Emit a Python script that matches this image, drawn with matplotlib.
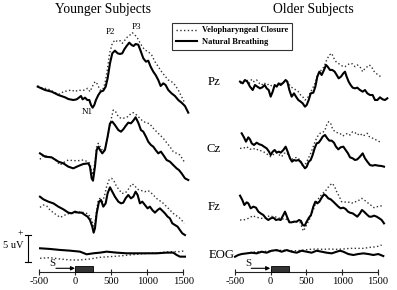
import numpy as np
import matplotlib
matplotlib.use("Agg")
import matplotlib.pyplot as plt
from matplotlib.patches import Rectangle

plt.rcParams['axes.unicode_minus'] = False
SERIF = ['Liberation Serif', 'DejaVu Serif']

# ---------------- data (time in ms, amplitude in uV, positive up) ----------------
TICKS = [-500, 0, 500, 1000, 1500]
STIM_END = 250  # ms, duration of the stimulus bar

# Younger subjects
Y_PZ_NAT_T = [-524,-422,-330,-237,-144,-98,-29,18,55,78,101,134,166,194,217,240,263,286,319,351,388,421,448,481,513,550,587,620,652,680,712,749,782,809,837,874,911,944,981,1013,1046,1083,1115,1152,1185,1222,1254,1291,1337,1384,1430,1476,1523,1569]
Y_PZ_NAT   = [0.61,0,-0.30,-0.91,-1.33,-1.64,-1.82,-1.70,-1.33,-1.09,-1.70,-1.39,-1.82,-1.82,-2.73,-3.21,-2.73,-1.82,-0.91,-0.30,-0.12,0.61,2.12,4.85,6.67,7.15,6.67,6.55,6.67,7.39,8.0,8.61,8.18,8.0,8.36,8.24,6.97,5.76,5.15,5.33,4.24,3.33,2.73,1.82,0.73,1.21,0.91,0,-0.61,-1.09,-1.82,-2.30,-2.91,-4.12]
Y_PZ_VEL_T = [-524,-468,-376,-283,-214,-167,-121,-52,-5,41,87,134,170,203,235,272,305,342,379,411,444,476,513,550,587,620,652,689,726,759,791,828,865,897,930,967,1013,1060,1106,1152,1198,1245,1291,1337,1384,1430,1476,1523]
Y_PZ_VEL   = [0.73,0.42,0.18,-0.48,-0.73,-0.30,-0.18,0,-0.30,0,-0.12,0,0.30,-0.30,0.61,1.52,1.09,0,0,1.21,3.64,6.67,8.48,9.09,8.79,8.97,8.48,9.09,9.70,10.0,10.42,10.0,9.39,8.61,7.88,7.27,6.97,6.36,5.15,4.24,3.33,2.55,1.82,1.52,0.91,0,-1.21,-2.42]

Y_CZ_NAT_T = [-492,-422,-330,-237,-167,-98,-29,41,110,180,203,226,245,272,296,319,342,374,411,448,481,513,550,597,634,666,698,735,772,805,837,874,911,944,981,1013,1050,1083,1115,1152,1189,1222,1268,1314,1360,1407,1439,1476,1523,1569]
Y_CZ_NAT   = [1.21,0.61,0.48,-0.30,-0.61,-1.21,-1.52,-1.09,-0.73,-0.61,-1.21,-3.33,-3.76,-1.21,1.82,2.42,1.82,1.21,1.82,4.24,6.67,6.97,6.36,5.45,5.15,5.58,6.18,6.79,6.67,7.15,7.76,6.79,5.45,5.15,4.24,3.33,2.73,2.42,1.82,1.21,1.52,0.91,0,-0.30,-0.91,-1.52,-1.82,-2.42,-3.33,-3.64]
Y_CZ_VEL_T = [-492,-445,-376,-283,-214,-144,-98,-29,41,110,170,203,235,272,296,319,356,388,421,458,495,527,559,597,634,666,698,735,772,805,851,897,944,990,1036,1083,1129,1175,1222,1268,1314,1360,1407,1453,1499,1523]
Y_CZ_VEL   = [0.12,0.91,0.61,0.12,-0.91,-0.30,0,-0.12,-0.12,0,-0.30,-0.61,-2.73,-0.61,2.42,3.03,2.12,1.52,2.42,4.85,7.27,9.09,8.79,7.88,7.58,7.58,7.76,7.88,8.48,8.61,8.18,7.58,6.97,6.79,6.55,5.76,5.15,4.55,3.94,3.15,2.42,1.52,1.21,0.91,0,-0.61]

Y_FZ_NAT_T = [-492,-445,-376,-306,-237,-167,-98,-52,-5,41,87,134,170,203,235,254,272,296,328,356,388,421,448,481,513,550,597,634,666,698,735,772,805,837,865,897,930,967,1004,1036,1069,1106,1143,1175,1208,1245,1282,1314,1347,1384,1421,1453,1486,1523]
Y_FZ_NAT   = [2.42,1.94,1.52,1.21,0.61,0.12,-0.48,-0.61,-0.30,-0.48,-0.48,-0.91,-1.21,-1.82,-3.03,-4.12,-3.33,-0.61,1.52,1.82,0.61,1.21,3.03,4.12,3.33,2.42,1.52,1.21,1.33,2.12,2.73,2.12,2.42,3.33,2.73,1.21,1.52,0.91,0.30,0.61,0,-0.48,0,0.30,-0.12,-0.61,-1.21,-1.52,-2.42,-2.73,-3.03,-3.64,-4.24,-4.55]
Y_FZ_VEL_T = [-492,-445,-399,-353,-306,-260,-214,-167,-121,-52,18,87,134,170,203,235,254,272,296,319,342,365,402,434,467,504,541,573,606,643,680,712,745,782,819,851,884,921,967,1013,1060,1106,1152,1198,1245,1291,1337,1384,1430,1476,1513]
Y_FZ_VEL   = [0.48,0.91,0.73,0,-0.48,-0.91,-1.33,-1.09,-0.73,-0.61,-0.48,-0.30,-0.61,-0.61,-1.21,-2.12,-3.03,-2.42,0,1.82,2.12,1.21,2.42,4.24,5.45,5.76,5.15,4.24,3.76,3.03,3.03,3.33,3.94,4.73,4.55,3.94,3.64,3.52,3.33,3.52,3.03,2.42,1.82,1.52,0.91,0.30,-0.30,-0.91,-1.21,-1.82,-2.42]

Y_EOG_NAT_T = [-491,-353,-214,-75,64,157,249,342,435,574,712,851,990,1129,1268,1361,1407,1453,1523]
Y_EOG_NAT   = [0.91,0.79,0.61,0.48,0.30,-0.18,0,0.12,0.30,0.12,0,0,0,0,0.12,0.12,-0.30,-0.61,-0.61]
Y_EOG_VEL_T = [-491,-353,-214,-75,64,203,342,481,620,759,898,1037,1175,1314,1453,1523]
Y_EOG_VEL   = [-0.91,-0.79,-1.03,-1.21,-1.21,-1.03,-0.73,-0.61,-0.48,-0.30,-0.12,0,0.12,0.30,0.30,0.48]

# Older subjects
O_PZ_NAT_T = [-427,-390,-358,-325,-288,-250,-218,-185,-148,-115,-83,-55,-27,1,29,57,85,113,141,178,210,234,262,294,327,355,387,420,448,480,504,532,560,597,625,653,681,713,746,774,797,830,862,895,923,951,983,1016,1039,1062,1090,1118,1146,1179,1211,1248,1286,1318,1351,1388,1425,1458,1491,1528,1565,1598,1630]
O_PZ_NAT   = [0.61,0.30,0.91,0.61,-0.30,-0.91,0,-0.30,-0.61,-0.42,0,-0.61,-0.91,-2.12,-1.21,0,-0.30,0.30,0,0.42,0.91,0.61,-0.91,-2.12,-1.52,-2.12,-2.73,-3.03,-3.33,-3.94,-3.64,-2.73,-1.52,-1.39,-0.30,1.52,2.42,1.82,2.73,3.64,3.33,2.73,2.73,2.42,1.82,1.21,1.52,2.12,2.42,1.52,0.61,0,-0.48,-0.61,-0.48,-0.91,-1.21,-0.91,-1.52,-1.82,-1.82,-2.73,-2.73,-2.24,-2.61,-2.73,-2.42]
O_PZ_VEL_T = [-427,-381,-334,-297,-264,-232,-195,-157,-125,-92,-55,-18,15,47,85,122,155,187,215,248,280,317,355,387,420,448,480,513,550,587,620,653,681,713,746,783,820,853,885,913,946,978,1016,1039,1072,1109,1146,1179,1211,1248,1286,1318,1351,1379,1411,1435,1472,1505,1537]
O_PZ_VEL   = [0.30,0.61,0.91,0.30,1.03,0.61,0.91,0.30,0,0.42,0,0.18,-0.18,-0.30,0,0,0.42,0.61,0.79,0.30,-0.30,-0.61,-0.91,-1.21,-1.82,-2.12,-2.73,-2.42,-1.52,-0.61,0.30,1.82,2.42,2.73,3.33,4.55,5.45,5.76,4.85,4.24,3.94,3.64,3.33,3.33,3.64,3.94,3.82,3.33,3.64,3.33,2.42,3.03,3.33,3.64,3.33,2.61,2.12,1.82,1.52]

O_CZ_NAT_T = [-404,-372,-344,-311,-288,-264,-232,-195,-157,-125,-92,-55,-22,1,29,57,85,113,141,178,210,238,271,299,327,355,387,420,448,480,504,532,560,587,615,643,671,699,727,760,792,820,853,885,913,946,978,1016,1048,1081,1109,1146,1179,1211,1248,1286,1318,1351,1388,1425,1458,1505,1551,1584]
O_CZ_NAT   = [2.12,1.39,0.61,1.39,1.03,0.30,0,0.42,0.12,0,-0.30,-0.61,-1.21,-1.82,-1.21,-0.91,-1.39,-1.21,-1.39,-0.91,-0.30,-1.21,-2.42,-3.03,-2.73,-2.85,-2.73,-3.03,-3.64,-4.24,-3.94,-3.03,-2.73,-1.82,-0.61,0.30,0.42,0.91,1.52,1.82,1.21,0.79,0.79,0.42,-0.30,-0.79,-0.42,-0.30,-0.91,-1.52,-2.24,-2.42,-2.73,-2.61,-2.12,-1.52,-2.42,-3.03,-3.64,-3.76,-3.64,-3.76,-3.82,-3.94]
O_CZ_VEL_T = [-427,-381,-334,-288,-241,-204,-171,-139,-102,-64,-32,1,29,61,85,122,155,187,224,262,294,327,364,401,429,457,494,527,560,587,620,653,690,727,760,783,811,839,867,899,932,969,1006,1039,1072,1109,1146,1179,1211,1248,1286,1318,1351,1379,1411,1444,1481,1519,1551]
O_CZ_VEL   = [-0.61,-0.61,-0.30,-0.79,-0.61,-0.91,-0.79,-1.03,-1.21,-1.52,-1.82,-2.12,-1.82,-1.52,-1.39,-1.82,-2.12,-1.52,-1.39,-2.12,-2.61,-2.42,-2.24,-2.61,-3.64,-3.64,-3.33,-2.42,-1.52,-0.61,0.61,1.52,2.12,2.24,2.73,3.64,4.24,3.94,2.85,2.42,2.24,2.12,1.64,1.82,2.12,1.82,2.42,2.24,1.82,2.12,1.64,1.82,2.12,1.52,1.39,1.03,0.91,0.61,0.42]

O_FZ_NAT_T = [-427,-395,-367,-334,-311,-278,-241,-204,-171,-139,-102,-64,-32,1,38,75,108,141,178,201,234,262,294,327,364,397,425,448,476,504,536,564,597,625,653,681,713,746,774,806,839,876,913,946,978,1016,1048,1081,1109,1146,1179,1211,1248,1276,1304,1342,1379,1411,1444,1481,1519,1551,1584]
O_FZ_NAT   = [3.52,2.73,1.82,2.30,2.12,1.21,1.52,1.33,0.61,0.30,0,-0.61,-0.91,-0.61,-0.48,-0.91,-0.79,-0.91,0,0.61,-0.48,-1.33,-1.33,-1.21,-1.21,-0.91,-1.09,-1.82,-1.94,-1.21,-0.48,0,1.52,2.42,2.12,2.42,3.15,3.76,3.52,3.03,2.85,2.42,1.94,1.52,1.21,1.33,1.09,0.61,0.42,0.30,0,-0.30,0.30,0.91,0.61,0.12,-0.30,-0.30,-0.12,-0.30,-0.61,-0.91,-1.52]
O_FZ_VEL_T = [-427,-381,-334,-288,-250,-218,-171,-125,-78,-46,-8,29,61,94,131,168,201,234,271,308,341,373,411,434,457,480,513,550,587,620,653,690,727,760,792,830,862,895,923,960,992,1025,1062,1100,1132,1165,1202,1239,1272,1304,1342,1379,1411,1444,1481,1519,1551]
O_FZ_VEL   = [-0.91,-0.91,-0.73,-0.48,-0.12,-0.30,-0.48,-0.61,-0.61,-0.30,-0.12,-0.30,-0.30,-0.48,-0.61,-0.73,-0.61,-0.91,-1.21,-1.33,-1.33,-1.21,-1.33,-2.12,-2.91,-2.42,-1.52,-0.61,0.61,1.82,2.73,3.33,3.94,4.24,4.85,5.45,5.76,5.15,4.24,3.33,2.42,2.30,2.42,2.30,2.12,2.42,2.42,2.73,3.03,2.73,2.42,1.94,1.70,1.33,1.52,1.52,1.70]

O_EOG_NAT_T = [-497,-451,-404,-334,-264,-195,-125,-55,15,85,154,224,294,364,434,504,573,643,713,783,853,923,969,1016,1085,1155,1225,1295,1365,1435,1504,1574]
O_EOG_NAT   = [-0.73,-0.42,-0.24,-0.12,0,-0.12,0.18,0,0.36,0.48,0.18,0.48,0.18,0,0.36,0.18,0,0.36,0.18,0,-0.12,0.18,0.36,0.18,-0.24,-0.42,-0.24,-0.12,-0.24,-0.42,-0.24,-0.61]
O_EOG_VEL_T = [-288,-195,-102,-8,85,178,271,364,457,550,643,736,829,923,1016,1109,1202,1295,1388,1481,1551]
O_EOG_VEL   = [0,0.18,0.18,0.36,0.36,0.48,0.36,0.36,0.48,0.61,0.67,0.61,0.67,0.61,0.67,0.79,0.79,0.79,0.97,1.09,1.39]

CHANNELS = ['Pz', 'Cz', 'Fz', 'EOG']
LEGEND_LABELS = ['Velopharyngeal Closure', 'Natural Breathing']
TITLES = ['Younger Subjects', 'Older Subjects']
SCALE_UV = 5

# ---------------- layout ----------------
W, H = 397, 290
PX_PER_UV = 5.5
YTOP = H / PX_PER_UV                     # figure height in uV units
def ypx(p):                              # pixel row -> vertical data coordinate
    return (H - p) / PX_PER_UV

LEFT_OFF = {'Pz': ypx(90), 'Cz': ypx(160), 'Fz': ypx(210), 'EOG': ypx(253.3)}
RIGHT_OFF = {'Pz': ypx(85), 'Cz': ypx(145), 'Fz': ypx(215), 'EOG': ypx(252.7)}
AXIS_Y = ypx(272.3)

fig = plt.figure(figsize=(W / 100, H / 100), dpi=100)
fig.patch.set_facecolor('white')

def make_ax(x0, x1):
    ax = fig.add_axes([x0 / W, 0, (x1 - x0) / W, 1])
    ax.set_xlim(-500, 1500)
    ax.set_ylim(0, YTOP)
    ax.patch.set_visible(False)
    for s in ['left', 'right', 'top']:
        ax.spines[s].set_visible(False)
    ax.spines['bottom'].set_position(('data', AXIS_Y))
    ax.spines['bottom'].set_linewidth(0.8)
    ax.spines['bottom'].set_color('#222222')
    ax.yaxis.set_visible(False)
    ax.set_xticks(TICKS)
    ax.set_xticklabels([str(t) for t in TICKS])
    ax.tick_params(axis='x', direction='inout', length=4.8, width=0.8,
                   color='#222222', labelsize=7.6, pad=1.0)
    for lab in ax.get_xticklabels():
        lab.set_family(SERIF)
    return ax

axL = make_ax(39.4, 183.3)
axR = make_ax(234.8, 378.0)

SOLID = dict(color='black', lw=1.5, solid_joinstyle='round', clip_on=False)
DOTTED = dict(color='#333333', lw=1.0, ls=(0, (1, 1.7)), clip_on=False)

def draw(ax, off, nat_t, nat, vel_t, vel):
    lv, = ax.plot(vel_t, np.array(vel) + off, **DOTTED)
    ln, = ax.plot(nat_t, np.array(nat) + off, **SOLID)
    return lv, ln

draw(axL, LEFT_OFF['Pz'], Y_PZ_NAT_T, Y_PZ_NAT, Y_PZ_VEL_T, Y_PZ_VEL)
draw(axL, LEFT_OFF['Cz'], Y_CZ_NAT_T, Y_CZ_NAT, Y_CZ_VEL_T, Y_CZ_VEL)
draw(axL, LEFT_OFF['Fz'], Y_FZ_NAT_T, Y_FZ_NAT, Y_FZ_VEL_T, Y_FZ_VEL)
draw(axL, LEFT_OFF['EOG'], Y_EOG_NAT_T, Y_EOG_NAT, Y_EOG_VEL_T, Y_EOG_VEL)
draw(axR, RIGHT_OFF['Pz'], O_PZ_NAT_T, O_PZ_NAT, O_PZ_VEL_T, O_PZ_VEL)
draw(axR, RIGHT_OFF['Cz'], O_CZ_NAT_T, O_CZ_NAT, O_CZ_VEL_T, O_CZ_VEL)
draw(axR, RIGHT_OFF['Fz'], O_FZ_NAT_T, O_FZ_NAT, O_FZ_VEL_T, O_FZ_VEL)
lv, ln = draw(axR, RIGHT_OFF['EOG'], O_EOG_NAT_T, O_EOG_NAT, O_EOG_VEL_T, O_EOG_VEL)

# stimulus bar + "S" arrow
for ax in (axL, axR):
    ax.add_patch(Rectangle((0, AXIS_Y), STIM_END, 6.3 / PX_PER_UV,
                           facecolor='#333333', edgecolor='black', lw=0.6,
                           clip_on=False, zorder=3))
    ax.annotate('', xy=(-5, ypx(268.3)), xytext=(-270, ypx(268.3)),
                arrowprops=dict(arrowstyle='-|>', lw=0.8, color='black',
                                mutation_scale=6, shrinkA=0, shrinkB=0),
                annotation_clip=False)
    ax.text(-318, ypx(263.3), 'S', ha='center', va='center', fontsize=7.8,
            family=SERIF, color='#111111')

# 5 uV scale bar (left panel)
sx = -500 - (39.4 - 27.7) / 0.072
axL.plot([sx, sx], [ypx(262.3), ypx(262.3) + SCALE_UV], color='black', lw=0.8, clip_on=False)
for yy in (ypx(262.3), ypx(262.3) + SCALE_UV):
    axL.plot([sx - 40, sx + 40], [yy, yy], color='black', lw=0.8, clip_on=False)
fig.text(20.7 / W, 1 - 233.5 / H, '+', ha='center', va='center', fontsize=7, family=SERIF)
fig.text(13.3 / W, 1 - 246 / H, '5 uV', ha='center', va='center', fontsize=7.5, family=SERIF)

# titles
fig.text(103 / W, 1 - 10 / H, TITLES[0], ha='center', va='center', fontsize=9.8, family=SERIF)
fig.text(313.8 / W, 1 - 10 / H, TITLES[1], ha='center', va='center', fontsize=9.8, family=SERIF)

# channel labels
for name, (cx, cy) in zip(CHANNELS, [(214, 82), (213.5, 148.5), (214.5, 207), (221.5, 255)]):
    fig.text(cx / W, 1 - cy / H, name, ha='center', va='center', fontsize=9.2, family=SERIF)

# component labels
for name, (cx, cy) in zip(['P2', 'P3', 'N1'], [(110, 31.7), (136, 26.7), (87.3, 112.3)]):
    fig.text(cx / W, 1 - cy / H, name, ha='center', va='center', fontsize=6.5, family=SERIF)

# legend
leg = fig.legend([lv, ln], LEGEND_LABELS, loc='upper left',
                 bbox_to_anchor=(172 / W, 1 - 22.7 / H),
                 prop=dict(family=SERIF, size=6, weight='bold'),
                 frameon=True, fancybox=False, edgecolor='black',
                 handlelength=2.6, handletextpad=0.6, borderpad=0.45,
                 labelspacing=0.45, borderaxespad=0)
leg.get_frame().set_linewidth(0.8)

fig.savefig('out.png', dpi=100, facecolor='white')
